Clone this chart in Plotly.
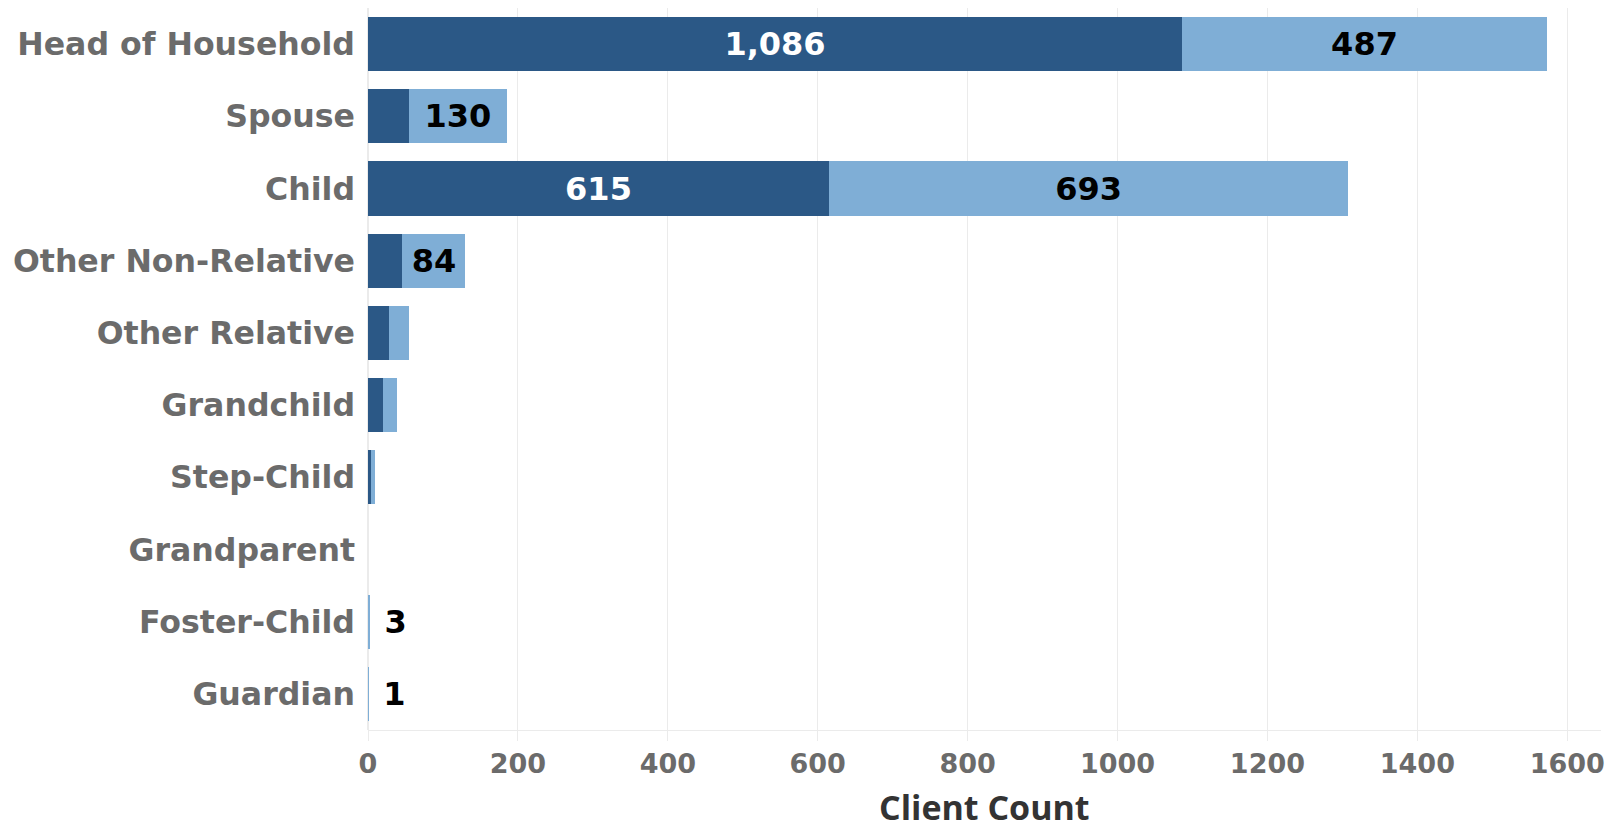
import plotly.graph_objects as go

categories = ["Head of Household", "Spouse", "Child", "Other Non-Relative", "Other Relative",
              "Grandchild", "Step-Child", "Grandparent", "Foster-Child", "Guardian"]
dark_values = [1086, 55, 615, 46, 28, 20, 4, 0, 0, 0]
light_values = [487, 130, 693, 84, 27, 19, 5, 0, 3, 1]
x_ticks = [0, 200, 400, 600, 800, 1000, 1200, 1400, 1600]
x_title = "Client Count"

DARK = "#2B5886"
LIGHT = "#7FAED6"

dark_text = [f"{v:,}" if v >= 100 else "" for v in dark_values]
light_text = []
for v in light_values:
    if v >= 50:
        light_text.append(f"{v:,}")
    elif 0 < v < 5:
        light_text.append("\u00a0" + f"{v:,}")
    else:
        light_text.append("")
light_pos = ["inside" if v >= 50 else "outside" for v in light_values]

fig = go.Figure()
fig.add_trace(go.Bar(
    y=categories, x=dark_values, orientation="h", name="Group A",
    marker=dict(color=DARK, line=dict(width=0)),
    text=dark_text, textposition="inside", insidetextanchor="middle",
    textfont=dict(family="DejaVu Sans", size=32, color="white", weight="bold"),
    cliponaxis=False,
))
fig.add_trace(go.Bar(
    y=categories, x=light_values, orientation="h", name="Group B",
    marker=dict(color=LIGHT, line=dict(width=0)),
    text=light_text, textposition=light_pos, insidetextanchor="middle",
    textfont=dict(family="DejaVu Sans", size=32, color="black", weight="bold"),
    cliponaxis=False,
))

fig.update_layout(
    barmode="stack",
    bargap=0.25,
    width=1609, height=831,
    margin=dict(l=368, r=8, t=8, b=101, autoexpand=False),
    plot_bgcolor="white", paper_bgcolor="white",
    showlegend=False,
    xaxis=dict(
        automargin=False,
        range=[0, 1645], tickvals=x_ticks,
        showgrid=True, gridcolor="#EBEBEB", gridwidth=1,
        zeroline=True, zerolinecolor="#EBEBEB",
        showline=True, linecolor="#EBEBEB", linewidth=1,
        ticks="outside", ticklen=10, tickcolor="#EBEBEB",
        tickfont=dict(family="DejaVu Sans", size=27, color="#6B6B6B", weight="bold"),
    ),
    yaxis=dict(
        automargin=False,
        autorange="reversed",
        showgrid=False, zeroline=False, showline=False,
        ticks="", ticklabelstandoff=12,
        tickfont=dict(family="DejaVu Sans", size=31.6, color="#6B6B6B", weight="bold"),
    ),
    annotations=[dict(
        text=x_title, showarrow=False,
        xref="x domain", yref="y domain", x=0.5, y=-0.107,
        xanchor="center", yanchor="middle", borderpad=0,
        font=dict(family="Open Sans", size=34, color="#333333", weight="bold"),
    )],
)

fig.write_html("out.html", config={"displayModeBar": False},
               post_script="document.body.style.margin='0';")
